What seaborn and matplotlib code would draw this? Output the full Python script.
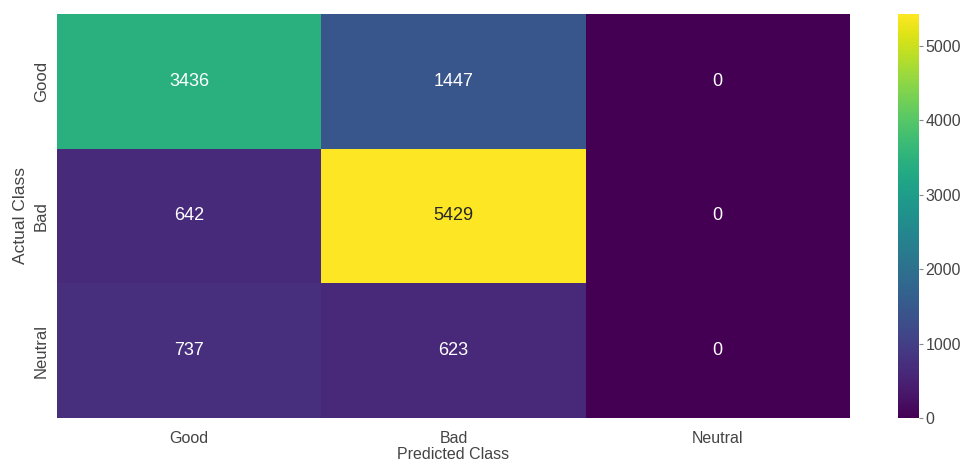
import matplotlib
matplotlib.use("Agg")
import matplotlib.pyplot as plt
import seaborn as sns
import numpy as np
import pandas as pd

classes = ["Good", "Bad", "Neutral"]
row_good = [3436, 1447, 0]
row_bad = [642, 5429, 0]
row_neutral = [737, 623, 0]
cbar_ticks = [0, 1000, 2000, 3000, 4000, 5000]

sns.set_style("white")
plt.rcParams["font.family"] = ["Liberation Sans", "DejaVu Sans"]
txt = "#444444"

cm = pd.DataFrame([row_good, row_bad, row_neutral], index=classes, columns=classes)

fig = plt.figure(figsize=(9.69, 4.62), dpi=100)
ax = fig.add_axes([0.059, 0.095, 0.818, 0.875])
cax = fig.add_axes([0.927, 0.095, 0.021, 0.875])

sns.heatmap(cm, annot=True, fmt="d", cmap="viridis", ax=ax, cbar_ax=cax,
            annot_kws={"fontsize": 13}, cbar_kws={"ticks": cbar_ticks})

ax.set_xlabel("Predicted Class", fontsize=11.5, color=txt, labelpad=1)
ax.set_ylabel("Actual Class", fontsize=12.5, color=txt, labelpad=4)
ax.tick_params(axis="x", length=0, labelsize=11.5, labelcolor=txt, pad=9)
ax.tick_params(axis="y", length=0, labelsize=12, labelcolor=txt, pad=6)
plt.setp(ax.get_yticklabels(), rotation=90, va="center")
plt.setp(ax.get_xticklabels(), rotation=0)

cax.tick_params(length=3, width=0.8, color="#888888", labelsize=11.5, labelcolor=txt, pad=2)
for s in cax.spines.values():
    s.set_visible(False)

fig.savefig("out.png", dpi=100)
